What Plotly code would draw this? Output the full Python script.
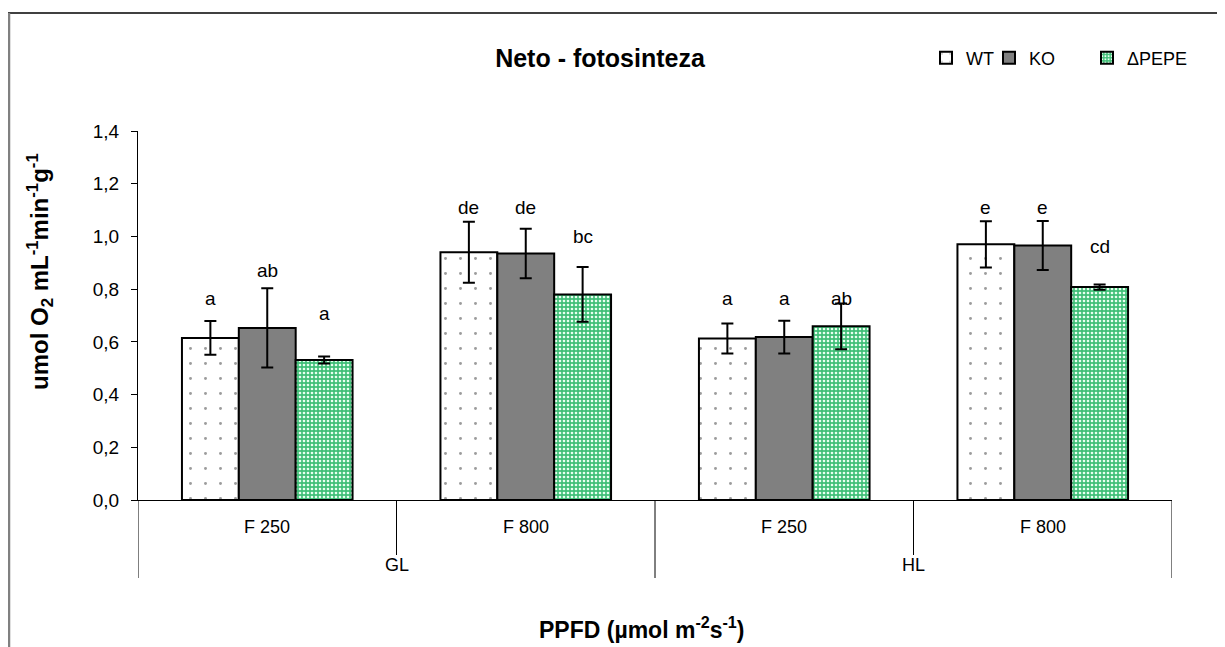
import plotly.graph_objects as go

groups = ["GL", "GL", "HL", "HL"]
levels = ["F 250", "F 800", "F 250", "F 800"]
series = ["WT", "KO", "\u0394PEPE"]
values = {
    "WT": [0.615, 0.940, 0.613, 0.970],
    "KO": [0.653, 0.935, 0.618, 0.966],
    "\u0394PEPE": [0.531, 0.780, 0.659, 0.808],
}
errors = {
    "WT": [0.064, 0.116, 0.057, 0.088],
    "KO": [0.150, 0.094, 0.062, 0.093],
    "\u0394PEPE": [0.013, 0.104, 0.087, 0.010],
}
letters = {
    "WT": ["a", "de", "a", "e"],
    "KO": ["ab", "de", "a", "e"],
    "\u0394PEPE": ["a", "bc", "ab", "cd"],
}
letter_y = {
    "WT": [0.766, 1.108, 0.766, 1.108],
    "KO": [0.869, 1.108, 0.766, 1.108],
    "\u0394PEPE": [0.709, 0.998, 0.766, 0.960],
}
title_text = "Neto - fotosinteza"
x_title = "PPFD (µmol m<sup>-2</sup>s<sup>-1</sup>)"
y_title = "umol O<sub>2</sub> mL<sup>-1</sup>min<sup>-1</sup>g<sup>-1</sup>"

cats = [f"{g} {l}" for g, l in zip(groups, levels)]
FONT = "Arial, Liberation Sans, sans-serif"

OFF = 8  # default page margin of the html body
W, H = 1225 - OFF, 647 - OFF
L, R, T, B = 138 - OFF, 53, 131 - OFF, 147
PW, PH = W - L - R, H - T - B


def px(xp):  # page x -> paper
    return (xp - OFF - L) / PW


def py(yp):  # page y -> paper
    return (H - B - (yp - OFF)) / PH


styles = {
    "WT": dict(color="white", pattern=dict(shape=".", fgcolor="#3a3a3a", bgcolor="white", size=15,
                                           solidity=0.03, fillmode="overlay")),
    "KO": dict(color="#808080"),
    "\u0394PEPE": dict(color="#41bf78", pattern=dict(shape=".", fgcolor="#e8fff0", bgcolor="#41bf78",
                                                     size=4, solidity=0.35, fillmode="replace")),
}
legend_names = ["legend", "legend2", "legend3"]
legend_x = [px(926), px(989), px(1087)]

fig = go.Figure()
for si, s in enumerate(series):
    st = styles[s]
    marker = dict(color=st["color"], line=dict(color="black", width=2))
    if "pattern" in st:
        marker["pattern"] = st["pattern"]
    fig.add_trace(go.Bar(
        x=cats, y=values[s], name=s, marker=marker, legend=legend_names[si],
        error_y=dict(type="data", array=errors[s], color="black", thickness=2, width=6),
    ))

# letter annotations
nser = len(series)
bargap = 0.34
bw = (1 - bargap) / nser
for si, s in enumerate(series):
    for ci in range(len(cats)):
        xpos = ci - (1 - bargap) / 2 + bw * (si + 0.5)
        fig.add_annotation(x=xpos, y=letter_y[s][ci], xref="x", yref="y",
                           text=letters[s][ci], showarrow=False,
                           font=dict(size=19, color="black", family=FONT),
                           yanchor="middle")

# category labels and dividers
for ci, l in enumerate(levels):
    fig.add_annotation(x=ci, y=py(527), xref="x", yref="paper", text=l, showarrow=False,
                       font=dict(size=18, color="black", family=FONT), yanchor="middle")
outer = []
for ci, g in enumerate(groups):
    if not outer or outer[-1][0] != g:
        outer.append([g, ci, ci])
    else:
        outer[-1][2] = ci
for g, a, b in outer:
    fig.add_annotation(x=(a + b) / 2, y=py(565), xref="x", yref="paper", text=g, showarrow=False,
                       font=dict(size=18, color="black", family=FONT), yanchor="middle")

line = dict(color="black", width=1)
for ci in range(len(cats) + 1):
    x = ci - 0.5
    is_outer = ci == 0 or ci == len(cats) or groups[ci] != groups[ci - 1]
    fig.add_shape(type="line", xref="x", yref="paper", x0=x, x1=x, y0=0,
                  y1=py(578) if is_outer else py(555), line=line)

# axis titles
fig.add_annotation(x=px(641), y=py(628), xref="paper", yref="paper", text=f"<b>{x_title}</b>",
                   showarrow=False, font=dict(size=23, family=FONT, color="black"), yanchor="middle")
fig.add_annotation(x=px(40), y=py(272), xref="paper", yref="paper", text=f"<b>{y_title}</b>",
                   showarrow=False, textangle=-90, font=dict(size=24, family=FONT, color="black"),
                   xanchor="center", yanchor="middle")

# frame lines
fig.add_shape(type="line", xref="paper", yref="paper", x0=px(8), x1=px(1226), y0=py(13), y1=py(13),
              line=dict(color="black", width=1.5))
fig.add_shape(type="line", xref="paper", yref="paper", x0=px(9), x1=px(9), y0=py(13), y1=py(648),
              line=dict(color="#808080", width=2.5))

legend_common = dict(orientation="h", xanchor="left", y=py(58), yanchor="middle",
                     font=dict(size=18, family=FONT, color="black"), itemwidth=30,
                     itemclick=False, itemdoubleclick=False, bgcolor="rgba(0,0,0,0)")
legends = {name: dict(x=lx, **legend_common) for name, lx in zip(legend_names, legend_x)}

fig.update_layout(
    width=W, height=H,
    margin=dict(l=L, r=R, t=T, b=B, autoexpand=False),
    paper_bgcolor="white", plot_bgcolor="white",
    separators=",.",
    barmode="group", bargap=bargap, bargroupgap=0,
    font=dict(family=FONT, color="black", size=18),
    title=dict(text=f"<b>{title_text}</b>", x=(600 - OFF) / W, xanchor="center", xref="container",
               y=1 - (58 - OFF) / H, yanchor="middle", yref="container",
               font=dict(size=25, family=FONT, color="black")),
    showlegend=True,
    legend=legends["legend"], legend2=legends["legend2"], legend3=legends["legend3"],
    xaxis=dict(showticklabels=False, ticks="", showline=True, linecolor="black", linewidth=1,
               range=[-0.5, len(cats) - 0.5], showgrid=False, zeroline=False, automargin=False),
    yaxis=dict(range=[0, 1.4], dtick=0.2, tickformat=".1f", ticks="outside", ticklen=6,
               tickcolor="black", showline=True, linecolor="black", linewidth=1, showgrid=False,
               zeroline=False, tickfont=dict(size=19, family=FONT, color="black"),
               ticklabelstandoff=8, automargin=False),
)
fig.write_html("out.html")
